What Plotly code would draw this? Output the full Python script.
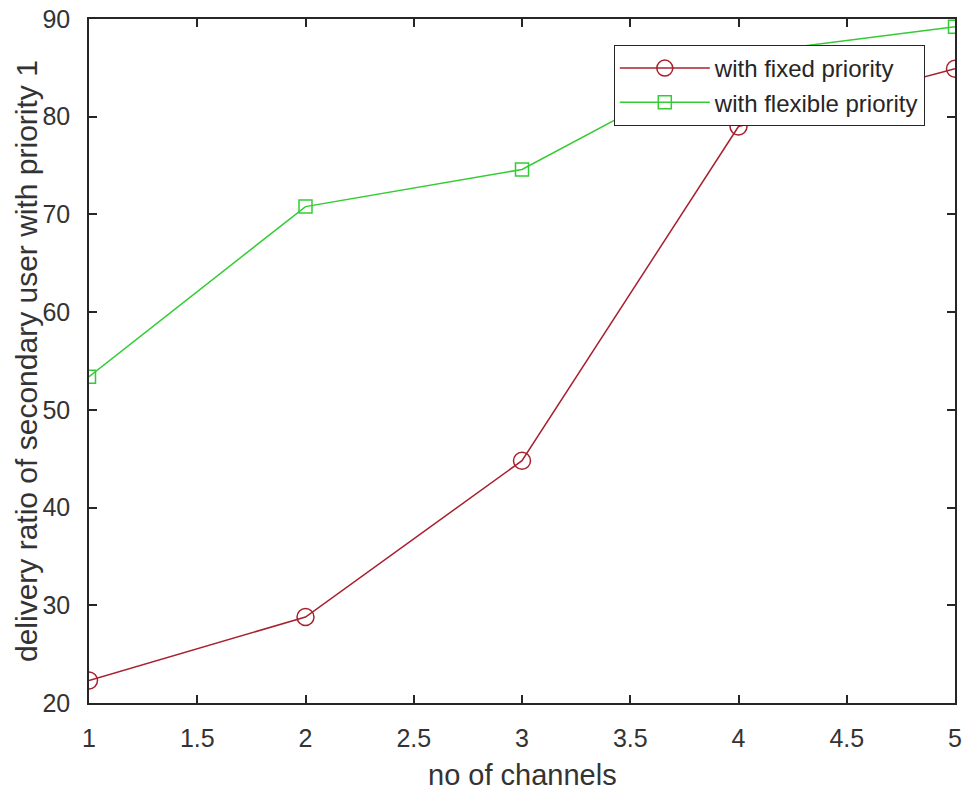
import plotly.graph_objects as go

channels = [1, 2, 3, 4, 5]
fixed_priority = [22.3, 28.8, 44.8, 79.0, 84.9]
flexible_priority = [53.4, 70.8, 74.6, 86.4, 89.2]

x_ticks = [1, 1.5, 2, 2.5, 3, 3.5, 4, 4.5, 5]
x_tick_text = ["1", "1.5", "2", "2.5", "3", "3.5", "4", "4.5", "5"]
y_ticks = [20, 30, 40, 50, 60, 70, 80, 90]

x_title = "no of channels"
y_title = "delivery ratio of secondary user with priority 1"

font_family = "Liberation Sans, Arial, sans-serif"
axis_color = "#262626"
text_color = "#333333"

fig = go.Figure()
fig.add_trace(go.Scatter(
    x=channels, y=fixed_priority, mode="lines+markers",
    name="with fixed priority",
    line=dict(color="#a8202e", width=1.5),
    marker=dict(symbol="circle-open", size=17, color="#a8202e", line=dict(width=1.5)),
))
fig.add_trace(go.Scatter(
    x=channels, y=flexible_priority, mode="lines+markers",
    name="with flexible priority",
    line=dict(color="#33cc33", width=1.5),
    marker=dict(symbol="square-open", size=13, color="#33cc33", line=dict(width=1.5)),
))

fig.update_layout(
    width=966, height=791,
    margin=dict(l=89, r=11, t=19, b=88),
    paper_bgcolor="white", plot_bgcolor="white",
    font=dict(family=font_family, size=24, color=text_color),
    showlegend=True,
    legend=dict(
        x=0.606, y=0.962, xanchor="left", yanchor="top",
        bgcolor="white", bordercolor=axis_color, borderwidth=1,
        font=dict(size=24, color="#262626"),
        itemwidth=90, tracegroupgap=0,
    ),
    xaxis=dict(
        range=[1, 5], tickvals=x_ticks, ticktext=x_tick_text,
        showline=True, linecolor=axis_color, linewidth=1.5, mirror="ticks",
        ticks="inside", ticklen=8, tickcolor=axis_color, tickwidth=1.5,
        showgrid=False, zeroline=False, automargin=False,
        tickfont=dict(size=25, color=text_color),
        ticklabelstandoff=12, ticklabeloverflow="allow",
    ),
    yaxis=dict(
        range=[20, 90], tickvals=y_ticks,
        showline=True, linecolor=axis_color, linewidth=1.5, mirror="ticks",
        ticks="inside", ticklen=8, tickcolor=axis_color, tickwidth=1.5,
        showgrid=False, zeroline=False, automargin=False,
        tickfont=dict(size=25, color=text_color),
        ticklabelstandoff=12, ticklabeloverflow="allow",
    ),
    annotations=[
        dict(text=x_title, xref="paper", yref="paper", x=0.5, y=-0.105,
             xanchor="center", yanchor="middle", showarrow=False,
             font=dict(size=29, color=text_color)),
        dict(text=y_title, xref="paper", yref="paper", x=-0.0727, y=0.5,
             xanchor="center", yanchor="middle", showarrow=False, textangle=-90,
             font=dict(size=30, color=text_color)),
    ],
)

fig.write_html(
    "out.html",
    config={"displayModeBar": False},
    post_script="document.body.style.margin='0';document.body.style.overflow='hidden';",
)
